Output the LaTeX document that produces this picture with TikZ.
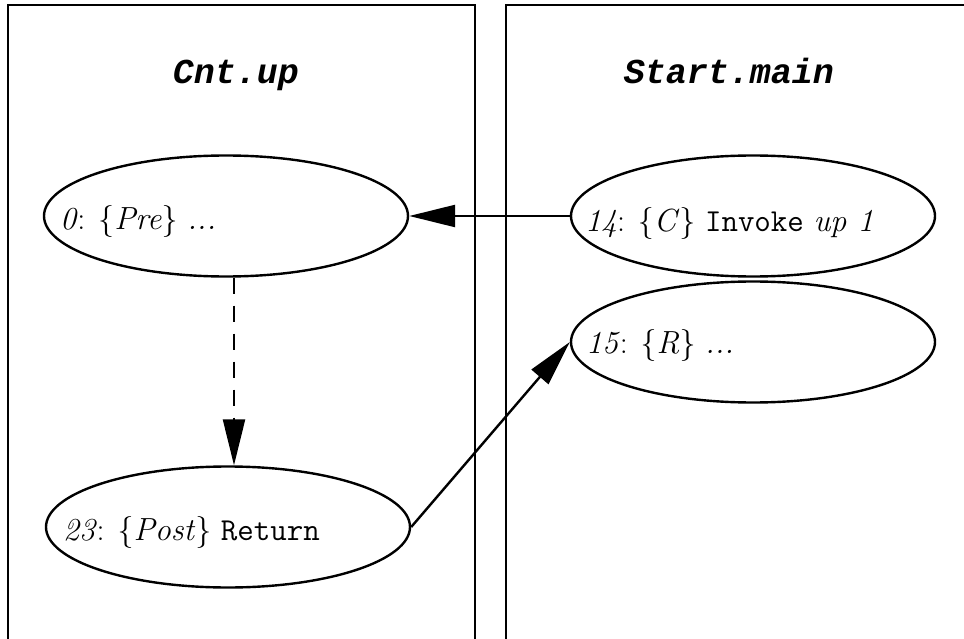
\documentclass[tikz,border=0pt]{standalone}
\usepackage{fontspec}
\newfontfamily\clusterfont{Liberation Mono}
\usetikzlibrary{arrows.meta,shapes.geometric}

\tikzset{
  cluster/.style={draw, line width=2.4pt},
  clustertitle/.style={font=\clusterfont\bfseries\itshape\fontsize{35}{40}\selectfont, anchor=base},
  stmt/.style={draw, ellipse, line width=2.4pt, minimum width=364pt, minimum height=121pt, inner sep=0pt},
  stmttext/.style={font=\fontsize{32}{38}\selectfont, anchor=base west, inner sep=0pt},
  flow/.style={line width=2.4pt, -{Triangle[length=46pt,width=22pt]}},
  implied/.style={flow, dash pattern=on 16pt off 12pt},
}

\begin{document}
\begin{tikzpicture}[x=1pt,y=-1pt]
  \useasboundingbox (0,0) rectangle (964,639);
  \clip (0,0) rectangle (964,639);

  % procedure clusters
  \draw[cluster] (8,700) -- (8,5) -- (475,5) -- (475,700);
  \draw[cluster] (506,700) -- (506,5) -- (1000,5);
  \node[clustertitle] (tcnt) at (236,84) {Cnt.up};
  \node[clustertitle] (tstart) at (729,84) {Start.main};

  % statement nodes
  \node[stmt] (n0)  at (226,216) {};
  \node[stmt] (n14) at (753,216) {};
  \node[stmt] (n15) at (753,342) {};
  \node[stmt] (n23) at (228,527) {};

  \node[stmttext] (l0)  at ([xshift=17pt,yshift=-14pt]n0.west)  {\textit{0}: \{\textit{Pre}\} \textit{...}};
  \node[stmttext] (l14) at ([xshift=15pt,yshift=-16pt]n14.west) {\textit{14}: \{\textit{C}\} \texttt{Invoke} \textit{up 1}};
  \node[stmttext] (l15) at ([xshift=16pt,yshift=-11pt]n15.west) {\textit{15}: \{\textit{R}\} \textit{...}};
  \node[stmttext] (l23) at ([xshift=18pt,yshift=-13pt]n23.west) {\textit{23}: \{\textit{Post}\} \texttt{Return}};

  % control flow
  \draw[flow] (n14.west) -- (n0.east);
  \draw[implied] ([xshift=8pt]n0.south) -- ([xshift=6pt]n23.north);
  \draw[flow] (n23.east) -- (n15.west);
\end{tikzpicture}
\end{document}
